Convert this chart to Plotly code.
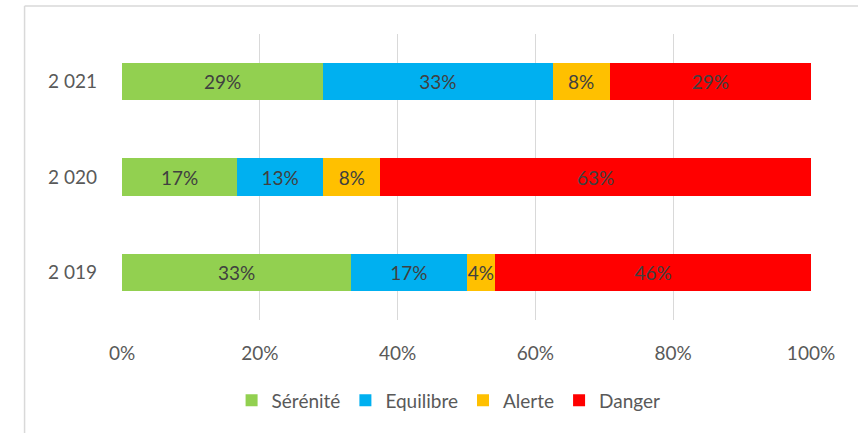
import plotly.graph_objects as go

categories = ["2 019", "2 020", "2 021"]
serenite = [33.3, 16.7, 29.2]
equilibre = [16.7, 12.5, 33.3]
alerte = [4.2, 8.3, 8.3]
danger = [45.8, 62.5, 29.2]
tick_vals = [0, 20, 40, 60, 80, 100]
tick_text = ["0%", "20%", "40%", "60%", "80%", "100%"]

series = [
    ("Sérénité", serenite, "#92d050"),
    ("Equilibre", equilibre, "#00b0f0"),
    ("Alerte", alerte, "#ffc000"),
    ("Danger", danger, "#ff0000"),
]

FONT = "Lato"
fig = go.Figure()
for name, vals, color in series:
    fig.add_trace(go.Bar(
        y=categories, x=vals, name=name, orientation="h",
        marker=dict(color=color, line=dict(width=0)),
        texttemplate="%{x:.0f}%", textposition="inside",
        insidetextanchor="middle", textangle=0,
        textfont=dict(family=FONT, size=19, color="#404040"),
    ))

fig.update_layout(
    barmode="stack", bargap=0.61,
    width=858, height=433,
    margin=dict(l=121.5, r=47, t=34, b=112.5),
    paper_bgcolor="white", plot_bgcolor="white",
    font=dict(family=FONT, size=19, color="#595959"),
    uniformtext=dict(minsize=19, mode="show"),
    legend=dict(orientation="h", x=0.474, xanchor="center", y=-0.281, yanchor="middle",
                font=dict(family=FONT, size=19, color="#595959"),
                itemwidth=30, traceorder="normal"),
    xaxis=dict(range=[0, 100], tickvals=tick_vals, ticktext=tick_text,
               showgrid=True, gridcolor="#d9d9d9", gridwidth=1,
               zeroline=False, showline=False, ticks="", ticklabelstandoff=20),
    yaxis=dict(categoryorder="array", categoryarray=categories,
               showgrid=False, zeroline=False, showline=False, ticks="",
               ticklabelstandoff=24),
    showlegend=True,
    shapes=[
        dict(type="line", xref="paper", yref="paper", x0=-0.1414, x1=1.2, y0=1.0977, y1=1.0977,
             line=dict(color="#d9d9d9", width=1.5)),
        dict(type="line", xref="paper", yref="paper", x0=-0.1414, x1=-0.1414, y0=1.0977, y1=-0.5,
             line=dict(color="#d9d9d9", width=1.5)),
    ],
)

fig.write_html("out.html", config={"displayModeBar": False},
               post_script="document.body.style.margin='0';document.body.style.overflow='hidden';")
